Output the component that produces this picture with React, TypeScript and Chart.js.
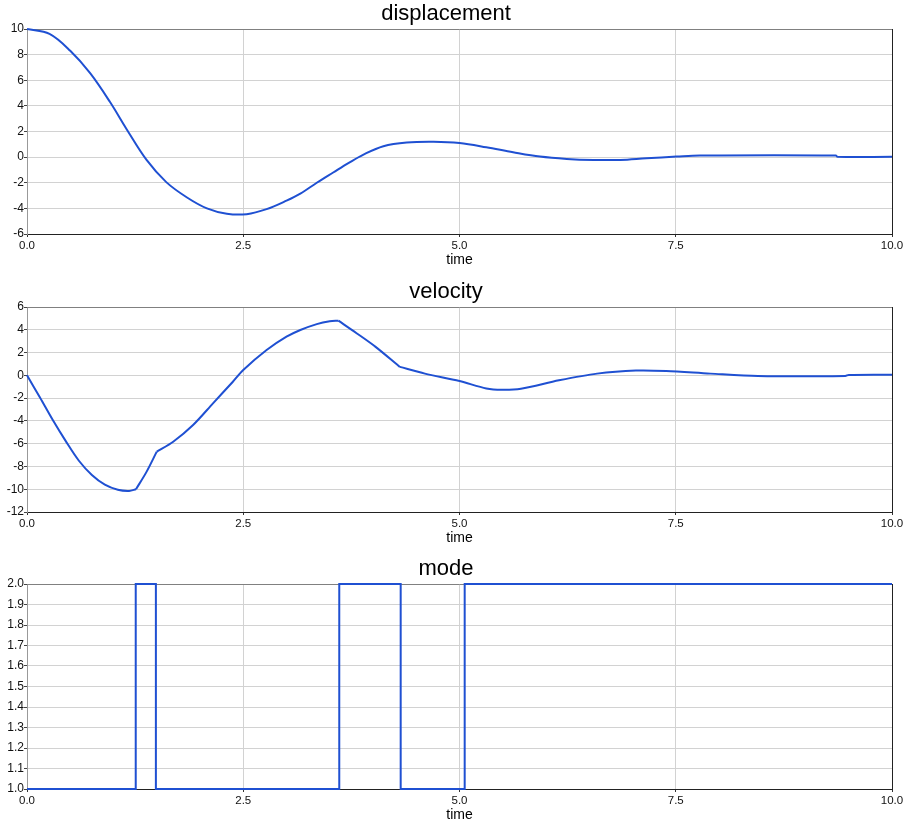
import React, { useEffect, useRef } from "react";
import { Chart, registerables } from "chart.js";

Chart.register(...registerables);

// ---------- data ----------
const timeTicks = [0, 2.5, 5, 7.5, 10];

const dispTime = [0, 0.26, 0.5, 0.73, 0.96, 1.15, 1.38, 1.61, 1.85, 2.08, 2.31, 2.54, 2.77, 3.0, 3.16, 3.35, 3.54, 3.72, 3.89, 4.12, 4.39, 4.7, 5.0, 5.31, 5.62, 5.93, 6.24, 6.55, 6.86, 7.16, 7.51, 7.78, 9.35, 9.37, 10.0];
const dispValues = [10, 9.62, 8.3, 6.55, 4.3, 2.2, -0.2, -1.95, -3.15, -4.0, -4.42, -4.45, -4.06, -3.4, -2.85, -2.0, -1.2, -0.45, 0.2, 0.85, 1.14, 1.2, 1.1, 0.77, 0.38, 0.04, -0.14, -0.22, -0.22, -0.09, 0.04, 0.12, 0.12, 0.02, 0.02];
const dispTicks = [-6, -4, -2, 0, 2, 4, 6, 8, 10];

const velTime = [0, 0.15, 0.3, 0.45, 0.6, 0.75, 0.9, 1.05, 1.18, 1.26, 1.38, 1.5, 1.69, 1.92, 2.15, 2.38, 2.5, 2.77, 3.0, 3.16, 3.35, 3.5, 3.6, 3.81, 4.03, 4.31, 4.6, 5.0, 5.31, 5.49, 5.71, 6.15, 6.59, 7.04, 7.39, 7.9, 8.45, 9.46, 9.5, 10.0];
const velValues = [0, -1.95, -3.95, -5.8, -7.5, -8.75, -9.6, -10.05, -10.15, -10.0, -8.5, -6.7, -5.83, -4.36, -2.46, -0.56, 0.47, 2.22, 3.39, 3.98, 4.5, 4.75, 4.8, 3.7, 2.5, 0.74, 0.15, -0.5, -1.15, -1.27, -1.18, -0.44, 0.15, 0.42, 0.38, 0.15, -0.06, -0.06, 0.04, 0.06];
const velKinks = [1.26, 1.5, 3.6, 4.31];
const velTicks = [-12, -10, -8, -6, -4, -2, 0, 2, 4, 6];

const modeTime = [0, 1.257, 1.49, 3.61, 4.32, 5.06, 10.0];
const modeValues = [1, 2, 1, 2, 1, 2, 2];
const modeTicks = [1.0, 1.1, 1.2, 1.3, 1.4, 1.5, 1.6, 1.7, 1.8, 1.9, 2.0];

// ---------- style ----------
const FONT = "'Liberation Sans', Arial, sans-serif";
const LINE_COLOR = "#1f50d2";
const GRID_COLOR = "#d2d2d2";

const framePlugin = {
  id: "frame",
  beforeDatasetsDraw(chart: any) {
    const { ctx, chartArea } = chart;
    const { left, right, top, bottom } = chartArea;
    ctx.save();
    ctx.lineWidth = 1;
    ctx.strokeStyle = "#808080";
    ctx.beginPath();
    ctx.moveTo(left, Math.floor(top) + 0.5);
    ctx.lineTo(right, Math.floor(top) + 0.5);
    ctx.stroke();
    ctx.strokeStyle = "#222222";
    ctx.beginPath();
    ctx.moveTo(Math.floor(right) + 0.5, top);
    ctx.lineTo(Math.floor(right) + 0.5, bottom);
    ctx.stroke();
    ctx.restore();
  },
};

// split a series into pieces at the given kink times (kink points belong to both neighbours)
function splitAt(xs: number[], ys: number[], kinks: number[]) {
  const pieces: { x: number; y: number }[][] = [];
  let cur: { x: number; y: number }[] = [];
  xs.forEach((x, i) => {
    const p = { x, y: ys[i] };
    cur.push(p);
    if (kinks.includes(x)) {
      pieces.push(cur);
      cur = [p];
    }
  });
  if (cur.length) pieces.push(cur);
  return pieces;
}

type PanelProps = {
  title: string;
  xs: number[];
  ys: number[];
  yTicks: number[];
  decimals: number;
  kinks?: number[];
  tension: number;
  stepped?: boolean;
  top: number;
};

function Panel({ title, xs, ys, yTicks, decimals, kinks, tension, stepped, top }: PanelProps) {
  const ref = useRef<HTMLCanvasElement | null>(null);
  useEffect(() => {
    if (!ref.current) return;
    const pieces = splitAt(xs, ys, kinks || []);
    const chart = new Chart(ref.current, {
      type: "line",
      data: {
        datasets: pieces.map((pts) => ({
          data: pts,
          borderColor: LINE_COLOR,
          borderWidth: 2,
          pointRadius: 0,
          fill: false,
          tension,
          stepped: stepped ? "before" : false,
          clip: 6,
        })) as any,
      },
      options: {
        animation: false,
        responsive: false,
        devicePixelRatio: 1,
        layout: { padding: { left: 0, right: 15, top: 0, bottom: 0 } },
        plugins: {
          legend: { display: false },
          tooltip: { enabled: false },
          title: {
            display: true,
            text: title,
            color: "#000",
            font: { family: FONT, size: 22, weight: "normal", lineHeight: 1 },
            padding: { top: 3, bottom: 4 },
          },
        },
        scales: {
          x: {
            type: "linear",
            min: timeTicks[0],
            max: timeTicks[timeTicks.length - 1],
            afterBuildTicks: (s: any) => {
              s.ticks = timeTicks.map((v) => ({ value: v }));
            },
            ticks: {
              autoSkip: false,
              maxRotation: 0,
              padding: 2,
              color: "#111",
              font: { family: FONT, size: 11.5 },
              callback: (v: any) => Number(v).toFixed(1),
            },
            grid: { color: GRID_COLOR, tickColor: "#333", tickLength: 3 },
            border: { color: "#222" },
            title: {
              display: true,
              text: "time",
              color: "#000",
              font: { family: FONT, size: 14, lineHeight: 1.2 },
              padding: { top: 0, bottom: 0 },
            },
            afterFit: (s: any) => {
              s.height = 35;
            },
          },
          y: {
            type: "linear",
            min: yTicks[0],
            max: yTicks[yTicks.length - 1],
            afterBuildTicks: (s: any) => {
              s.ticks = yTicks.map((v) => ({ value: v }));
            },
            ticks: {
              autoSkip: false,
              padding: 0,
              color: "#111",
              font: { family: FONT, size: 12 },
              callback: (v: any) => Number(v).toFixed(decimals),
            },
            grid: { color: GRID_COLOR, tickColor: "#444", tickLength: 3 },
            border: { color: "#999" },
            afterFit: (s: any) => {
              s.width = 27;
            },
          },
        },
      } as any,
      plugins: [framePlugin],
    });
    return () => chart.destroy();
  }, []);
  return (
    <canvas
      ref={ref}
      width={907}
      height={269}
      style={{ position: "absolute", left: 0, top, width: 907, height: 269 }}
    />
  );
}

export default function App() {
  return (
    <div style={{ position: "absolute", left: 0, top: 0, width: 907, height: 829, background: "#fff" }}>
      <Panel title="displacement" xs={dispTime} ys={dispValues} yTicks={dispTicks} decimals={0} tension={0.35} top={0} />
      <Panel title="velocity" xs={velTime} ys={velValues} yTicks={velTicks} decimals={0} kinks={velKinks} tension={0.3} top={278} />
      <Panel title="mode" xs={modeTime} ys={modeValues} yTicks={modeTicks} decimals={1} tension={0} stepped top={555} />
    </div>
  );
}
